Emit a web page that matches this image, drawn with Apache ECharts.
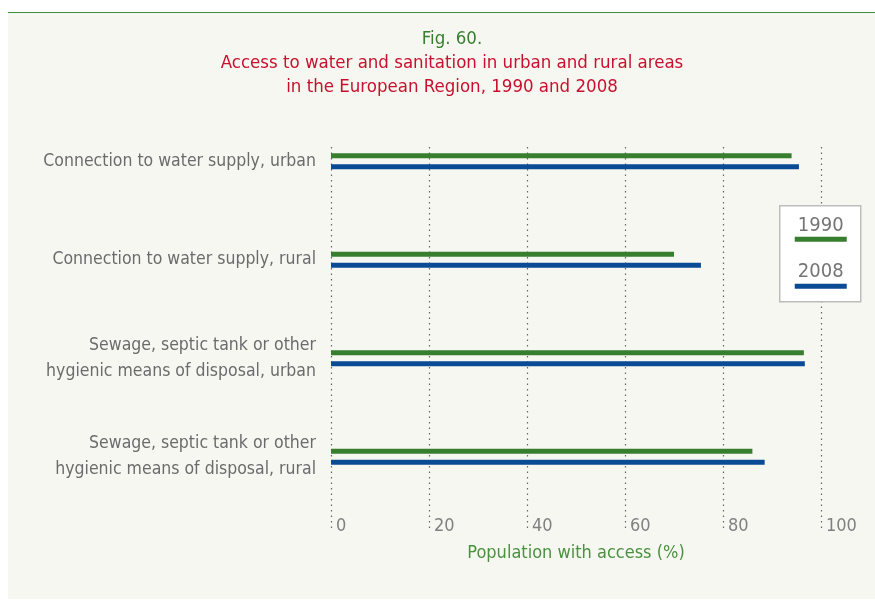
<!DOCTYPE html>
<html>
<head>
<meta charset="utf-8">
<script src="https://cdn.jsdelivr.net/npm/echarts@6/dist/echarts.min.js"></script>
<style>
  html, body { margin: 0; padding: 0; background: #fff; }
  #wrap { position: relative; width: 875px; height: 602px; }
  #panel { position: absolute; left: 8px; top: 12px; width: 867px; height: 586px;
           background: #f7f7f2; border-top: 1px solid #3f8f3f; }
  #chart { position: absolute; left: 0; top: 0; width: 875px; height: 602px; }
</style>
</head>
<body>
<div id="wrap">
  <div id="panel"></div>
  <div id="chart"></div>
</div>
<script>
const categories = [
  'Connection to water supply, urban',
  'Connection to water supply, rural',
  'Sewage, septic tank or other\nhygienic means of disposal, urban',
  'Sewage, septic tank or other\nhygienic means of disposal, rural',
];
const years = ['1990', '2008'];
const values1990 = [94, 70, 96.5, 86];
const values2008 = [95.5, 75.5, 96.7, 88.5];
const xTicks = [0, 20, 40, 60, 80, 100];

const GREEN = '#377e2f';
const BLUE = '#0b4a94';
const FONT = '"Liberation Sans Narrow", "DejaVu Sans Condensed", sans-serif';

const chart = echarts.init(document.getElementById('chart'));

chart.setOption({
  backgroundColor: 'transparent',
  textStyle: { fontFamily: FONT },
  title: {
    text: 'Fig. 60.',
    subtext: 'Access to water and sanitation in urban and rural areas\nin the European Region, 1990 and 2008',
    left: 447,
    top: 25,
    textAlign: 'center',
    itemGap: 2,
    textStyle: { color: GREEN, fontSize: 18.5, fontWeight: 'normal', fontFamily: FONT },
    subtextStyle: { color: '#c8102e', fontSize: 18.5, lineHeight: 24, fontFamily: FONT },
  },
  grid: [
    // gridlines + tick labels
    { left: 331, right: 54, top: 147, bottom: 72 },
    // bars
    { left: 331, right: 54, top: 112, bottom: 96 },
  ],
  xAxis: [
    {
      gridIndex: 0,
      type: 'value',
      min: xTicks[0],
      max: xTicks[xTicks.length - 1],
      interval: 20,
      axisLine: { show: false },
      axisTick: { show: false },
      splitLine: { show: true, lineStyle: { color: '#666', type: [1.5, 4], width: 1.2 } },
      axisLabel: {
        color: '#808080', fontSize: 18, align: 'left', margin: -13,
        padding: [0, 0, 0, 5], fontFamily: FONT,
      },
      name: 'Population with access (%)',
      nameLocation: 'middle',
      nameGap: 14,
      nameTextStyle: { color: '#4a9140', fontSize: 18, fontFamily: FONT, verticalAlign: 'top' },
    },
    {
      gridIndex: 1,
      type: 'value',
      min: 0,
      max: 100,
      show: false,
    },
  ],
  yAxis: [
    {
      gridIndex: 0,
      type: 'category',
      data: categories,
      show: false,
    },
    {
      gridIndex: 1,
      type: 'category',
      data: categories,
      inverse: true,
      axisLine: { show: false },
      axisTick: { show: false },
      splitLine: { show: false },
      axisLabel: {
        color: '#6b6b6b', fontSize: 17.5, lineHeight: 26, margin: 15, align: 'right',
        fontFamily: FONT,
      },
    },
  ],
  series: [
    {
      name: years[0],
      type: 'bar',
      xAxisIndex: 1,
      yAxisIndex: 1,
      data: values1990,
      barWidth: 5,
      barGap: '120%',
      itemStyle: { color: GREEN },
      silent: true,
    },
    {
      name: years[1],
      type: 'bar',
      xAxisIndex: 1,
      yAxisIndex: 1,
      data: values2008,
      barWidth: 5,
      itemStyle: { color: BLUE },
      silent: true,
    },
  ],
  graphic: [
    {
      type: 'group',
      left: 779,
      top: 205,
      z: 100,
      children: [
        { type: 'rect', z: 100, shape: { x: 0, y: 0, width: 81, height: 96 },
          style: { fill: '#fff', stroke: '#bdbdbd', lineWidth: 1.5 } },
        { type: 'text', z: 101, x: 41, y: 20, style: { text: years[0], fill: '#757575',
          font: '20px ' + FONT, align: 'center', verticalAlign: 'middle' } },
        { type: 'rect', z: 101, shape: { x: 15, y: 31, width: 52, height: 5 }, style: { fill: GREEN } },
        { type: 'text', z: 101, x: 41, y: 66, style: { text: years[1], fill: '#757575',
          font: '20px ' + FONT, align: 'center', verticalAlign: 'middle' } },
        { type: 'rect', z: 101, shape: { x: 15, y: 78, width: 52, height: 5 }, style: { fill: BLUE } },
      ],
    },
  ],
});
</script>
</body>
</html>
